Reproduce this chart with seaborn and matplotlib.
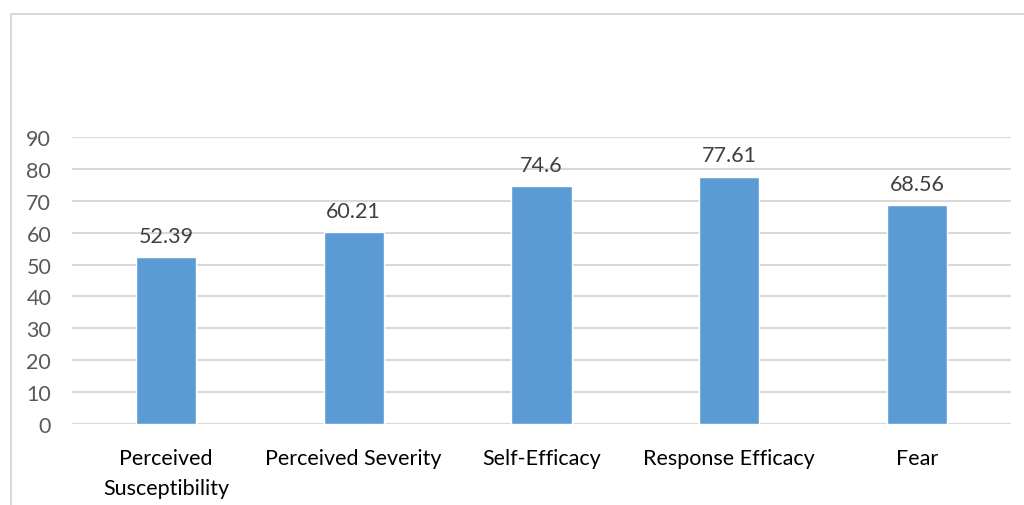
import matplotlib
matplotlib.use("Agg")
import matplotlib.pyplot as plt
import seaborn as sns
import pandas as pd
from matplotlib.patches import Rectangle

categories = ["Perceived\nSusceptibility", "Perceived Severity", "Self-Efficacy",
              "Response Efficacy", "Fear"]
scores = [52.39, 60.21, 74.6, 77.61, 68.56]
value_labels = ["52.39", "60.21", "74.6", "77.61", "68.56"]
y_ticks = [0, 10, 20, 30, 40, 50, 60, 70, 80, 90]

sns.set_theme(style="white")
plt.rcParams["font.family"] = ["Lato", "DejaVu Sans"]

df = pd.DataFrame({"category": categories, "score": scores})

fig = plt.figure(figsize=(10.24, 5.06), dpi=100)
W, H = 1024, 506
ax = fig.add_axes([72 / W, 1 - 425 / H, (1011 - 72) / W, (425 - 138) / H])

# outer chart frame
fig.patches.append(Rectangle((10.5 / W, -0.05), 1.2, 1 - 14.5 / H + 0.05,
                             transform=fig.transFigure, fill=False,
                             edgecolor="#D9D9D9", linewidth=1.5, zorder=0))

sns.barplot(data=df, x="category", y="score", color="#5B9BD5", width=0.32,
            saturation=1, ax=ax, zorder=3)

ax.set_ylim(0, 90)
ax.set_xlim(-0.5, len(categories) - 0.5)
ax.set_yticks(y_ticks)
ax.yaxis.grid(True, color="#D9D9D9", linewidth=1.5, zorder=0)
ax.set_axisbelow(True)
for s in ax.spines.values():
    s.set_visible(False)
ax.set_xlabel("")
ax.set_ylabel("")
ax.tick_params(axis="y", length=0, pad=15, labelsize=15.5, labelcolor="#595959")
ax.tick_params(axis="x", length=0, pad=17, labelsize=15.5, labelcolor="#000000")
for lbl in ax.get_yticklabels():
    lbl.set_horizontalalignment("right")
for lbl in ax.get_xticklabels():
    lbl.set_linespacing(1.65)

for i, (v, t) in enumerate(zip(scores, value_labels)):
    ax.annotate(t, (i, v), xytext=(0, 8), textcoords="offset points",
                ha="center", va="bottom", fontsize=15.5, color="#404040")

fig.savefig("out.png", dpi=100)
